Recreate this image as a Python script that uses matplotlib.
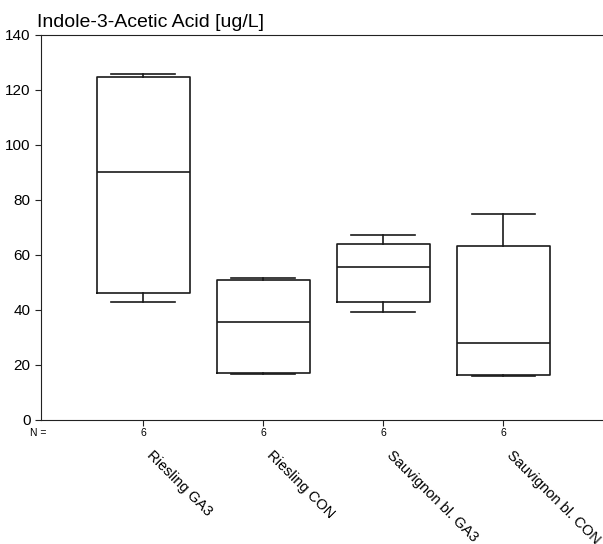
import matplotlib
matplotlib.use("Agg")
import matplotlib.pyplot as plt

plt.rcParams['font.family'] = ['Liberation Sans', 'DejaVu Sans']

# box statistics
groups = ['Riesling GA3', 'Riesling CON', 'Sauvignon bl. GA3', 'Sauvignon bl. CON']
n_obs = [6, 6, 6, 6]
whis_lo = [43.0, 16.7, 39.2, 15.9]
q1 = [46.1, 17.1, 43.0, 16.3]
median = [90.1, 35.6, 55.5, 28.1]
q3 = [124.5, 50.9, 64.1, 63.4]
whis_hi = [125.7, 51.7, 67.2, 74.8]

stats = []
for i in range(len(groups)):
    stats.append({'label': groups[i], 'whislo': whis_lo[i], 'q1': q1[i],
                  'med': median[i], 'q3': q3[i], 'whishi': whis_hi[i],
                  'fliers': []})

fig = plt.figure(figsize=(6.03, 5.44), dpi=100)
ax = fig.add_axes([0.068, 0.228, 0.932, 0.708])

line = dict(color='#1a1a1a', linewidth=1.2)
positions = [1, 2, 3, 4]
ax.bxp(stats, positions=positions, widths=0.775, showfliers=False,
       boxprops=line, medianprops=line, whiskerprops=line, capprops=line,
       capwidths=0.53)

ax.set_xlim(0.15, 4.83)
ax.set_ylim(0, 140)
ax.set_yticks(range(0, 141, 20))
ax.tick_params(axis='y', labelsize=11, length=4, color='#222222')
ax.set_xticks(positions)
ax.set_xticklabels([])
ax.tick_params(axis='x', length=4, color='#222222')
ax.spines['right'].set_visible(False)
for s in ['top', 'bottom', 'left']:
    ax.spines[s].set_color('#222222')

trans = matplotlib.transforms.blended_transform_factory(ax.transData, ax.transAxes)
off = matplotlib.transforms.offset_copy
ax.text(0.0, 0, 'N =', transform=off(trans, fig=fig, x=7, y=-13, units='dots'),
        fontsize=7.5, ha='left', va='center')
for p, n, g in zip(positions, n_obs, groups):
    ax.text(p, 0, str(n), transform=off(trans, fig=fig, y=-13, units='dots'),
            fontsize=7.5, ha='center', va='center')
    ax.text(p, 0, g, transform=off(trans, fig=fig, x=11, y=-28, units='dots'),
            fontsize=10.5, ha='left', va='top', rotation=-45,
            rotation_mode='anchor')

fig.text(0.061, 0.950, 'Indole-3-Acetic Acid [ug/L]', fontsize=14,
         ha='left', va='baseline')

fig.savefig('out.png', dpi=100)
